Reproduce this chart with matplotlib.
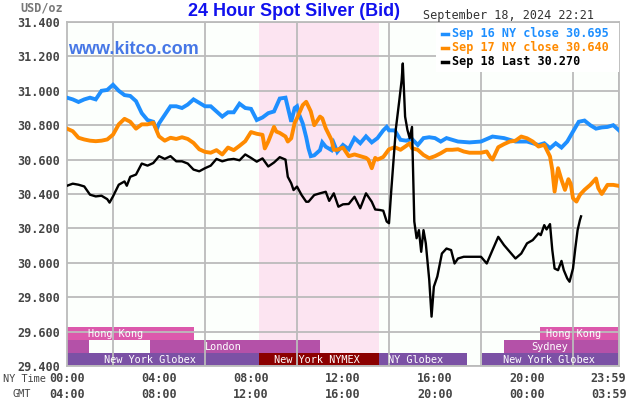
import matplotlib
matplotlib.use("Agg")
import matplotlib.pyplot as plt
from matplotlib.patches import Rectangle
from matplotlib.lines import Line2D

# ---- data (NY time in hours, price in USD/oz) ----
sep16_hours = [0, 0.25, 0.5, 0.75, 1, 1.25, 1.5, 1.75, 2, 2.25, 2.5, 2.75, 3, 3.25, 3.5, 3.75, 3.9,
               4, 4.25, 4.5, 4.75, 5, 5.25, 5.5, 5.75, 6, 6.25, 6.5, 6.75, 7, 7.25, 7.5, 7.75,
               8, 8.25, 8.5, 8.75, 9, 9.25, 9.5, 9.75, 9.9, 10, 10.1, 10.25, 10.4, 10.5, 10.6, 10.75,
               11, 11.1, 11.25, 11.5, 11.6, 11.75, 12, 12.25, 12.5, 12.75, 13, 13.25, 13.5, 13.75, 13.9,
               14, 14.25, 14.5, 14.75, 15, 15.25, 15.5, 15.75, 16, 16.25, 16.5, 16.75, 17, 17.5, 18,
               18.5, 19, 19.5, 20, 20.5, 20.75, 21, 21.25, 21.5, 21.75, 22, 22.25, 22.5, 22.75,
               23, 23.25, 23.5, 23.75, 24]
sep16_price = [30.96, 30.95, 30.935, 30.95, 30.96, 30.95, 31.0, 31.005, 31.035, 31.0, 30.975, 30.97,
               30.94, 30.87, 30.83, 30.82, 30.775, 30.81, 30.86, 30.91, 30.91, 30.90, 30.92, 30.95,
               30.93, 30.91, 30.91, 30.88, 30.85, 30.875, 30.875, 30.925, 30.90, 30.895, 30.83, 30.845,
               30.87, 30.88, 30.955, 30.96, 30.82, 30.90, 30.91, 30.86, 30.81, 30.73, 30.665, 30.62,
               30.625, 30.655, 30.70, 30.675, 30.655, 30.695, 30.645, 30.685, 30.66, 30.725, 30.695,
               30.735, 30.70, 30.725, 30.77, 30.79, 30.77, 30.77, 30.715, 30.71, 30.72, 30.685, 30.725,
               30.73, 30.725, 30.705, 30.725, 30.715, 30.705, 30.70, 30.705, 30.734, 30.725, 30.705,
               30.705, 30.685, 30.695, 30.666, 30.695, 30.67, 30.705, 30.763, 30.82, 30.827, 30.80,
               30.78, 30.787, 30.79, 30.80, 30.77]

sep17_hours = [0, 0.25, 0.5, 0.75, 1, 1.25, 1.5, 1.75, 2, 2.25, 2.5, 2.75, 3, 3.25, 3.5, 3.75,
               4, 4.25, 4.5, 4.75, 5, 5.25, 5.5, 5.75, 6, 6.25, 6.5, 6.75, 7, 7.25, 7.5, 7.75, 8,
               8.25, 8.5, 8.6, 8.75, 9, 9.1, 9.25, 9.5, 9.6, 9.75, 9.9, 10, 10.25, 10.4, 10.6, 10.75,
               10.9, 11, 11.1, 11.25, 11.5, 11.6, 11.75, 12, 12.25, 12.5, 12.75, 13, 13.1, 13.25, 13.4,
               13.5, 13.75, 14, 14.25, 14.5, 14.75, 14.9, 15, 15.25, 15.5, 15.75, 16, 16.25, 16.5,
               16.75, 17, 17.25, 17.5, 18, 18.25, 18.4, 18.5, 18.75, 19, 19.25, 19.5, 19.75, 20,
               20.25, 20.5, 20.75, 21, 21.1, 21.2, 21.35, 21.5, 21.65, 21.8, 21.9, 22, 22.15, 22.3,
               22.5, 22.75, 23, 23.1, 23.25, 23.5, 23.75, 24]
sep17_price = [30.78, 30.765, 30.727, 30.717, 30.71, 30.707, 30.71, 30.717, 30.745, 30.805, 30.837,
               30.82, 30.78, 30.805, 30.805, 30.815, 30.735, 30.71, 30.727, 30.72, 30.73, 30.72,
               30.697, 30.66, 30.645, 30.64, 30.655, 30.63, 30.67, 30.655, 30.68, 30.707, 30.76,
               30.75, 30.744, 30.665, 30.705, 30.79, 30.763, 30.755, 30.734, 30.705, 30.724, 30.815,
               30.84, 30.917, 30.936, 30.88, 30.80, 30.83, 30.85, 30.84, 30.782, 30.715, 30.657,
               30.657, 30.67, 30.62, 30.63, 30.62, 30.61, 30.60, 30.55, 30.61, 30.60, 30.615, 30.66,
               30.672, 30.657, 30.68, 30.695, 30.666, 30.657, 30.627, 30.608, 30.62, 30.637, 30.657,
               30.657, 30.66, 30.647, 30.64, 30.64, 30.647, 30.614, 30.60, 30.672, 30.69, 30.705,
               30.71, 30.734, 30.724, 30.705, 30.676, 30.686, 30.618, 30.54, 30.414, 30.55, 30.482,
               30.424, 30.486, 30.46, 30.375, 30.356, 30.395, 30.424, 30.453, 30.49, 30.434, 30.40,
               30.453, 30.453, 30.447]

sep18_hours = [0, 0.25, 0.5, 0.75, 1, 1.25, 1.5, 1.75, 1.85, 2, 2.25, 2.5, 2.6, 2.75, 3, 3.25, 3.5,
               3.75, 4, 4.25, 4.5, 4.75, 5, 5.25, 5.5, 5.75, 6, 6.25, 6.5, 6.75, 7, 7.25, 7.5, 7.75,
               8, 8.25, 8.5, 8.75, 9, 9.25, 9.5, 9.6, 9.75, 9.85, 10, 10.2, 10.4, 10.5, 10.75, 11,
               11.25, 11.4, 11.6, 11.8, 12, 12.25, 12.5, 12.75, 13, 13.25, 13.4, 13.6, 13.75, 13.9,
               14, 14.1, 14.3, 14.45, 14.55, 14.6, 14.7, 14.8, 14.9, 15, 15.1, 15.2, 15.3, 15.4, 15.5,
               15.6, 15.75, 15.85, 15.95, 16.1, 16.3, 16.5, 16.7, 16.85, 17, 17.25, 17.5, 18, 18.25,
               18.5, 18.75, 19, 19.25, 19.5, 19.75, 20, 20.25, 20.5, 20.6, 20.75, 20.85, 21, 21.1,
               21.2, 21.35, 21.5, 21.6, 21.75, 21.85, 22, 22.1, 22.2, 22.3, 22.35]
sep18_price = [30.448, 30.46, 30.454, 30.444, 30.396, 30.386, 30.39, 30.37, 30.35, 30.386, 30.454,
               30.473, 30.448, 30.5, 30.513, 30.577, 30.565, 30.58, 30.62, 30.604, 30.62, 30.59, 30.59,
               30.577, 30.542, 30.532, 30.55, 30.565, 30.604, 30.59, 30.60, 30.604, 30.596, 30.63,
               30.61, 30.588, 30.607, 30.56, 30.583, 30.614, 30.60, 30.50, 30.462, 30.423, 30.443,
               30.394, 30.355, 30.355, 30.394, 30.404, 30.413, 30.36, 30.404, 30.326, 30.34, 30.342,
               30.384, 30.317, 30.404, 30.355, 30.31, 30.307, 30.303, 30.24, 30.23, 30.423, 30.781,
               30.946, 31.062, 31.159, 30.85, 30.773, 30.724, 30.79, 30.24, 30.143, 30.19, 30.064,
               30.19, 30.113, 29.90, 29.687, 29.861, 29.92, 30.054, 30.083, 30.074, 29.996, 30.025,
               30.035, 30.035, 30.035, 29.996, 30.074, 30.151, 30.103, 30.064, 30.025, 30.054, 30.113,
               30.132, 30.171, 30.161, 30.219, 30.194, 30.225, 30.074, 29.967, 29.957, 30.011, 29.957,
               29.909, 29.89, 29.967, 30.084, 30.19, 30.248, 30.27]

legend_labels = ["Sep 16 NY close 30.695", "Sep 17 NY close 30.640", "Sep 18 Last 30.270"]
y_ticks = [29.4, 29.6, 29.8, 30.0, 30.2, 30.4, 30.6, 30.8, 31.0, 31.2, 31.4]
ny_time_labels = ["00:00", "04:00", "08:00", "12:00", "16:00", "20:00", "23:59"]
gmt_labels = ["04:00", "08:00", "12:00", "16:00", "20:00", "00:00", "03:59"]
x_label_pos = [0, 4, 8, 12, 16, 20, 23.55]

# market sessions: (start hour, length in hours)
hong_kong = [(0, 5.52), (20.56, 3.44)]
london_sydney = [(0, 0.96), (3.6, 7.4), (19.0, 5.0)]
ny_globex = [(0, 8.33), (13.55, 3.85), (18.03, 5.97)]
ny_nymex = [(8.33, 5.22)]

MONO = "DejaVu Sans Mono"
W, H = 630, 400


def fx(px):
    return px / W


def fy(py):
    return 1 - py / H


fig = plt.figure(figsize=(6.3, 4.0), dpi=100)
fig.patch.set_facecolor("white")
ax = fig.add_axes([fx(67), 1 - 366 / H, 552 / W, 344 / H])
ax.set_facecolor("#FCFFFC")
ax.set_xlim(0, 24)
ax.set_ylim(29.4, 31.4)

# NYMEX pit hours shading
ax.axvspan(8.33, 13.55, color="#FCE4F1", zorder=0.5, lw=0)

# session bars
row_h = 0.075
ax.broken_barh(ny_globex, (29.4, row_h), facecolors="#7B51A5", zorder=1)
ax.broken_barh(ny_nymex, (29.4, row_h), facecolors="#8B0000", zorder=1)
ax.broken_barh(london_sydney, (29.4 + row_h, row_h), facecolors="#B451A8", zorder=1)
ax.broken_barh(hong_kong, (29.4 + 2 * row_h, row_h), facecolors="#DC59AC", zorder=1)

session_text = [("Hong Kong", 2.09, 2), ("London", 6.8, 1), ("New York Globex", 3.6, 0),
                ("New York NYMEX", 10.87, 0), ("NY Globex", 15.17, 0),
                ("New York Globex", 20.96, 0), ("Sydney", 20.98, 1), ("Hong Kong", 22.04, 2)]
for txt, hx, row in session_text:
    ax.text(hx, 29.4 + row_h * (row + 0.5), txt, color="white", fontsize=7.4,
            family=MONO, ha="center", va="center", zorder=4)

# price lines
ax.plot(sep16_hours, sep16_price, color="#1E8FFF", lw=2.8, zorder=3, solid_joinstyle="miter")
ax.plot(sep17_hours, sep17_price, color="#FF8A00", lw=2.8, zorder=3)
ax.plot(sep18_hours, sep18_price, color="black", lw=1.7, zorder=3.2)

# grid
ax.set_axisbelow(False)
ax.set_xticks(range(0, 25, 2), minor=True)
ax.set_xticks(x_label_pos)
ax.set_xticklabels([a + "\n" + b for a, b in zip(ny_time_labels, gmt_labels)],
                   family=MONO, fontweight="bold", fontsize=8.5, color="#444444",
                   linespacing=1.3)
ax.set_yticks(y_ticks)
ax.set_yticklabels(["%.3f" % v for v in y_ticks], family=MONO, fontweight="bold",
                   fontsize=8.5, color="#444444")
ax.grid(which="minor", axis="x", color="#BBBBBB", lw=1.3, zorder=2.5)
ax.grid(which="major", axis="y", color="#BBBBBB", lw=1.3, zorder=2.5)
ax.tick_params(which="both", length=0)
ax.tick_params(axis="y", pad=5)
ax.tick_params(axis="x", pad=4)
for s in ax.spines.values():
    s.set_color("#BBBBBB")
    s.set_linewidth(1.3)

# texts around the plot
fig.text(fx(20), fy(8), "USD/oz", family=MONO, fontweight="bold", fontsize=8.5,
         color="#777777", va="center")
fig.text(fx(294), fy(12), "24 Hour Spot Silver (Bid)", family="Liberation Sans",
         fontweight="bold", fontsize=13, color="#1111EE", ha="center", va="center")
fig.text(fx(423), fy(15), "September 18, 2024 22:21", family=MONO, fontsize=8.5,
         color="#333333", va="center")
fig.text(fx(3), fy(379), "NY Time", family=MONO, fontsize=7.4, color="#444444", va="center")
fig.text(fx(12), fy(394), "GMT", family=MONO, fontsize=7.4, color="#444444", va="center")
ax.text(fx(68), fy(49), "www.kitco.com", transform=fig.transFigure, family="Liberation Sans",
        fontweight="bold", fontsize=13, color="#4677E6", va="center", zorder=6)

# legend box
ax.add_patch(Rectangle((fx(436), fy(72)), fx(619) - fx(436), fy(23) - fy(72),
                       transform=fig.transFigure, facecolor="white", edgecolor="none",
                       zorder=5, clip_on=False))
leg_colors = ["#1E8FFF", "#FF8A00", "black"]
for i, (lab, c) in enumerate(zip(legend_labels, leg_colors)):
    yy = 34 + 14 * i
    ax.add_line(Line2D([fx(442), fx(448)], [fy(yy), fy(yy)], transform=fig.transFigure,
                       color=c, lw=2.5, zorder=6, clip_on=False))
    ax.text(fx(452), fy(yy), lab, transform=fig.transFigure, family=MONO,
            fontweight="bold", fontsize=8.5, color=c, va="center", zorder=6)

fig.savefig("out.png", dpi=100)
